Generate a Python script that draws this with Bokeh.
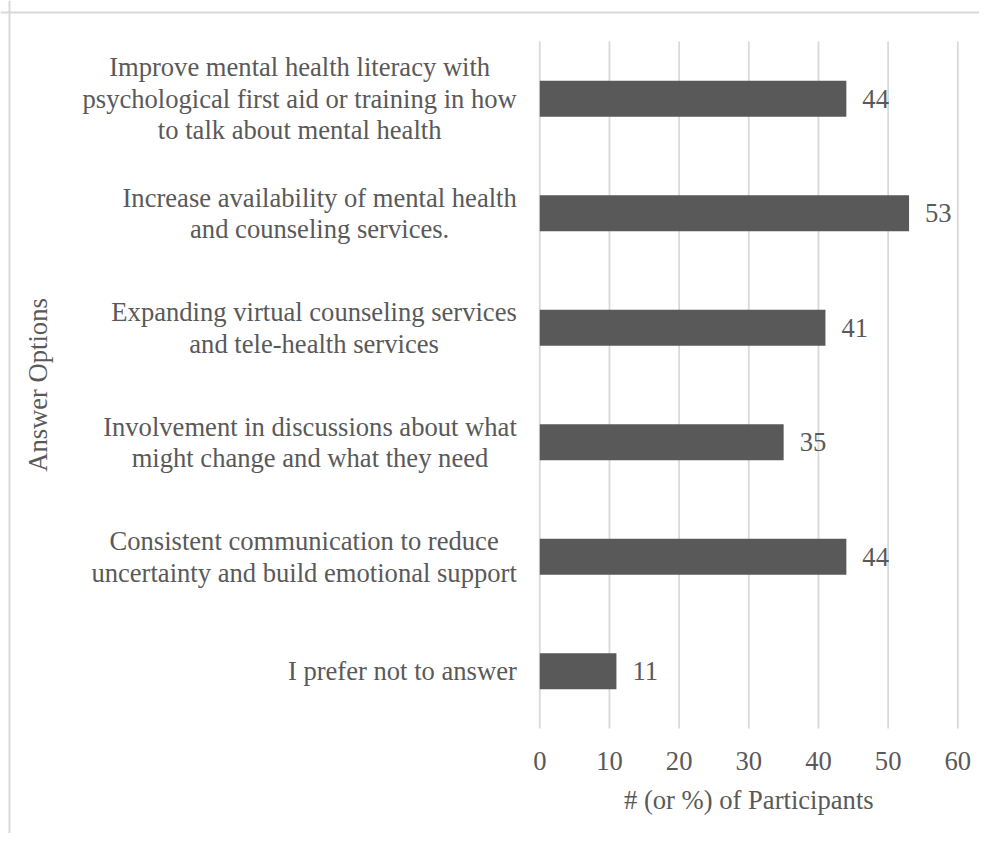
import math
from bokeh.plotting import figure
from bokeh.models import Range1d, Span
from bokeh.core.properties import value
from bokeh.embed import file_html
from bokeh.resources import INLINE

# ---- data ----
categories = [
    "Improve mental health literacy with\npsychological first aid or training in how\nto talk about mental health",
    "Increase availability of mental health\nand counseling services.",
    "Expanding virtual counseling services\nand tele-health services",
    "Involvement in discussions about what\nmight change and what they need",
    "Consistent communication to reduce\nuncertainty and build emotional support",
    "I prefer not to answer",
]
values = [44, 53, 41, 35, 44, 11]
x_ticks = [0, 10, 20, 30, 40, 50, 60]
x_tick_labels = ["0", "10", "20", "30", "40", "50", "60"]
x_title = "# (or %) of Participants"
y_title = "Answer Options"

# ---- layout (pixels, canvas coordinates) ----
W, H = 979, 833
PX_X = 6.967      # px per unit on value axis
X0 = 539.3        # canvas x of value 0
PX_Y = 114.5      # px per category band
Y0 = 41.0         # canvas y of top of first band

x_start = -X0 / PX_X
x_end = (W - X0) / PX_X
y_top = -Y0 / PX_Y
y_bottom = (H - Y0) / PX_Y

FONT = value("Liberation Serif")
FS = "26.6px"
TXT = "#595959"
GRID = "#d9d9d9"

p = figure(width=W, height=H,
           x_range=Range1d(x_start, x_end),
           y_range=Range1d(y_bottom, y_top),
           x_axis_type=None, y_axis_type=None,
           output_backend="svg", toolbar_location=None,
           min_border=0)
p.outline_line_color = None
p.background_fill_color = "white"
p.border_fill_color = "white"

n = len(categories)
ys = [i + 0.5 for i in range(n)]

# gridlines at tick values
p.segment(x0=x_ticks, y0=[0] * len(x_ticks), x1=x_ticks, y1=[n] * len(x_ticks),
          line_color=GRID, line_width=1.8)

# bars
p.hbar(y=ys, left=0, right=values, height=0.315,
       fill_color="#595959", line_color=None)

# value labels
p.text(x=values, y=ys, text=[str(v) for v in values], x_offset=16,
       text_align="left", text_baseline="middle",
       text_font=FONT, text_font_size=FS, text_color=TXT)

# category labels (block right-aligned, lines centered)
p.text(x=[0] * n, y=ys, text=categories, x_offset=-23,
       anchor="center_right", text_align="center", text_baseline="middle",
       text_line_height=1.05,
       text_font=FONT, text_font_size=FS, text_color=TXT)

# x tick labels
tick_y = (760 - Y0) / PX_Y
p.text(x=x_ticks, y=[tick_y] * len(x_ticks), text=x_tick_labels,
       text_align="center", text_baseline="middle",
       text_font=FONT, text_font_size=FS, text_color=TXT)

# x axis title
title_y = (799 - Y0) / PX_Y
p.text(x=[(x_ticks[0] + x_ticks[-1]) / 2], y=[title_y], text=[x_title],
       text_align="center", text_baseline="middle",
       text_font=FONT, text_font_size=FS, text_color=TXT)

# y axis title
ytitle_x = (37 - X0) / PX_X
p.text(x=[ytitle_x], y=[n / 2], text=[y_title], angle=math.pi / 2,
       text_align="center", text_baseline="middle",
       text_font=FONT, text_font_size=FS, text_color=TXT)

# chart border (left and top edges visible)
p.add_layout(Span(location=x_start + 9.0 / PX_X, dimension="height",
                  line_color=GRID, line_width=2))
p.add_layout(Span(location=y_top + 12.0 / PX_Y, dimension="width",
                  line_color=GRID, line_width=2))

open("out.html", "w").write(file_html(p, INLINE))
